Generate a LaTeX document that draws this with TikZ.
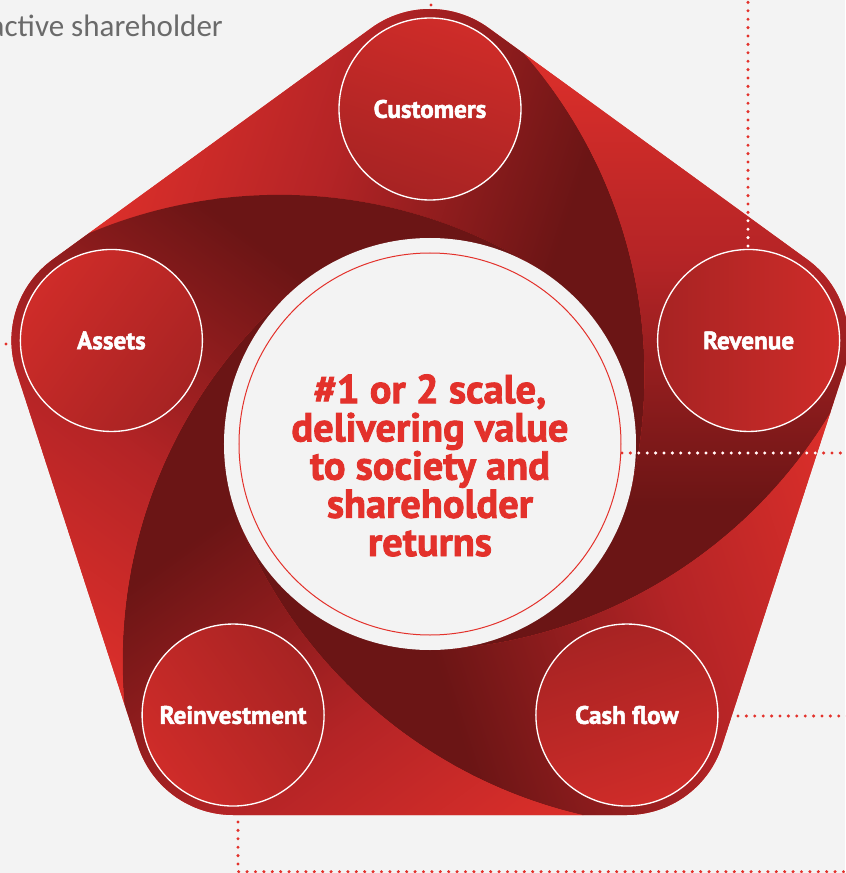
\documentclass[tikz,border=0pt]{standalone}
\usepackage{fontspec}
\setmainfont{PT Sans}[BoldFeatures={FakeBold=2}]
\newfontfamily\thinfont{Carlito}
\usetikzlibrary{calc}

\definecolor{paper}{HTML}{F3F3F3}
\definecolor{vred}{HTML}{E3312B}
\definecolor{vmid}{HTML}{B42426}
\definecolor{vdark}{HTML}{6B1515}
\definecolor{discA}{HTML}{CF2C29}
\definecolor{discB}{HTML}{A72323}
\definecolor{inkgrey}{HTML}{6A6A6A}

% rounded pentagon, its corners wrapped round the five stage discs
\newcommand\hullpath{($(90:335)+(54:100)$) arc[start angle=54,delta angle=72,radius=100]
  -- ++(216:393.8) arc[start angle=126,delta angle=72,radius=100]
  -- ++(288:393.8) arc[start angle=198,delta angle=72,radius=100]
  -- ++(0:393.8) arc[start angle=270,delta angle=72,radius=100]
  -- ++(72:393.8) arc[start angle=342,delta angle=72,radius=100]
  -- cycle}
% red-to-maroon sweep along one blade (uses \tilt and \glow)
\newcommand\bladeshade{%
  \begin{scope}[transform canvas={rotate around={\tilt:(\glow:116)}}]
    \shade[left color=vred, right color=vdark, middle color=vmid]
      ($(\glow:116)+(-315,-520)$) rectangle ($(\glow:116)+(170,520)$);
    \fill[vdark] ($(\glow:116)+(169,-520)$) rectangle ($(\glow:116)+(520,520)$);
  \end{scope}}

\tikzset{
  stage/.style={circle, minimum size=54.6mm, inner sep=0pt, draw=white, line width=0.4mm,
    left color=discA, right color=discB, text=white,
    font=\bfseries\fontsize{21.5}{24}\selectfont},
  dots/.style={vred, line width=1mm, line cap=round, dash pattern=on 0pt off 2.52mm},
}

\begin{document}
\begin{tikzpicture}[x=0.3mm,y=0.3mm]
  \useasboundingbox (-430,-429) rectangle (415,444);
  \fill[paper] (-430,-429) rectangle (415,444);

  \fill[vred] \hullpath;

  % five swept blades, each one tucked under the next
  \foreach \a in {90,18,-54,-126,162}{
    \pgfmathsetmacro\ownc{\a+76}
    \pgfmathsetmacro\nextc{\a+148}
    \pgfmathsetmacro\tilt{\a-108}
    \pgfmathsetmacro\glow{\a+51}
    % tip end, clear of the next blade
    \begin{scope}
      \clip \hullpath;
      \clip (\ownc:284) circle[radius=490];
      \clip (0,0) -- (\a-104:1200) -- (\a-68:1200) -- (\a-31:1200) -- cycle;
      \bladeshade
    \end{scope}
    % back end, where the next blade lies over it
    \begin{scope}[even odd rule]
      \clip \hullpath;
      \clip (\ownc:284) circle[radius=490];
      \clip (0,0) -- (\a-32:1200) -- (\a+18:1200) -- (\a+68:1200) -- cycle;
      \clip (900,-900) rectangle (-900,900) (\nextc:284) circle[radius=490];
      \bladeshade
    \end{scope}
  }

  % hub
  \node[circle, fill=paper, minimum size=123.6mm, inner sep=0pt] (hub) at (0,0) {};
  \draw[vred, line width=0.3mm] (hub.center) circle[radius=191];
  \node[font=\bfseries\fontsize{34.5}{32.6}\selectfont, text=vred, align=center, anchor=base]
    (slogan) at (0,-112) {\#1 or 2 scale,\\delivering value\\to society and\\shareholder\\returns};

  % stages
  \node[stage, shading angle=-18] (customers) at (90:335) {Customers};
  \node[stage, shading angle=-90] (revenue) at (18:335) {Revenue};
  \node[stage, shading angle=-162] (cashflow) at (-54:335) {Cash flow};
  \node[stage, shading angle=126] (reinvest) at (-126:335) {Reinvestment};
  \node[stage, shading angle=54] (assets) at (162:335) {Assets};

  \node[font=\thinfont\fontsize{26.5}{30}\selectfont, text=inkgrey, anchor=base east, inner sep=0pt]
    (motto) at (-207,407) {active shareholder};

  % leader lines
  \coordinate (custtop) at (1,439);
  \coordinate (custout) at (1,470);
  \coordinate (revtop) at (318,198);
  \coordinate (revout) at (318,460);
  \coordinate (hubtap) at (192,-9);
  \coordinate (hubout) at (440,-9);
  \coordinate (cashtap) at (308,-272);
  \coordinate (cashout) at (440,-272);
  \coordinate (reintap) at (-192,-378);
  \coordinate (reinbend) at (-192,-427.7);
  \coordinate (reinout) at (440,-427.7);
  \coordinate (assettap) at (-424,100);
  \coordinate (assetout) at (-470,100);

  \draw[dots] (custtop) -- (custout);
  \draw[dots] (revtop) -- (revout);
  \draw[dots] (hubtap) -- (hubout);
  \draw[dots] (cashtap) -- (cashout);
  \draw[dots] (reintap) -- (reinbend) -- (reinout);
  \draw[dots] (assettap) -- (assetout);
  \begin{scope}[even odd rule]
    \clip \hullpath;
    \clip (900,-900) rectangle (-900,900) (hub.center) circle[radius=206];
    \draw[dots, white] (revtop) -- (revout);
    \draw[dots, white] (hubtap) -- (hubout);
  \end{scope}
\end{tikzpicture}
\end{document}
